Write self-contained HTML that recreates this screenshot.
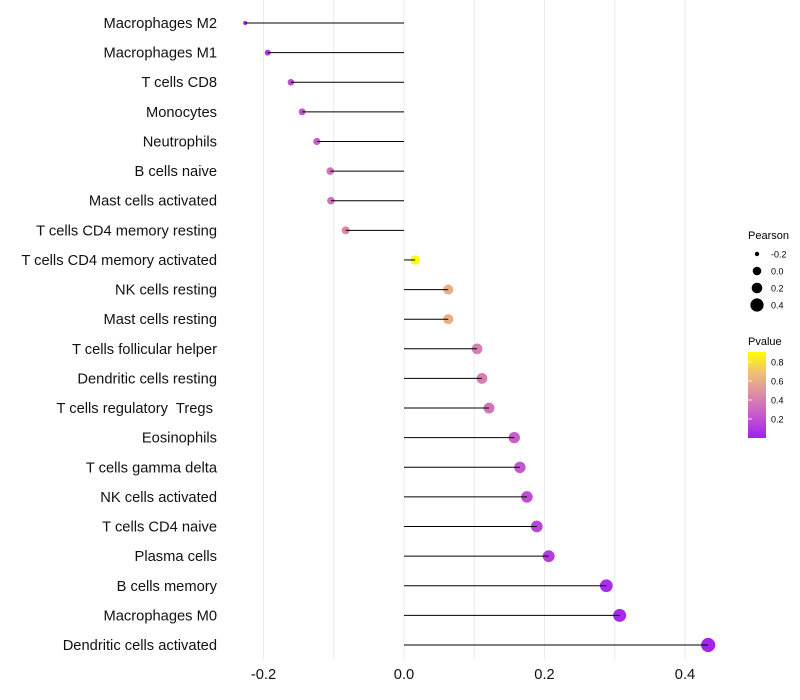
<!DOCTYPE html>
<html><head><meta charset="utf-8"><style>
body{margin:0;background:#fff;}
svg{font-family:"Liberation Sans",sans-serif;display:block}
text{white-space:pre}
</style></head><body>
<svg id="chart" width="800" height="700">
<defs><linearGradient id="pg" x1="0" y1="1" x2="0" y2="0">
<stop offset="0" stop-color="#A020F0"/><stop offset="0.25" stop-color="#C556CF"/><stop offset="0.5" stop-color="#DC8AA8"/><stop offset="0.75" stop-color="#EFBE78"/><stop offset="1" stop-color="#FFFF00"/>
</linearGradient></defs>
<g id="grid"></g><g id="marks"></g><g id="ylabels"></g><g id="xlabels"></g>
<g id="legend">
<text x="748" y="239" font-size="11">Pearson</text>
<text x="748" y="345" font-size="11">Pvalue</text>
<rect x="748" y="352" width="18" height="86" fill="url(#pg)"/>
</g>
</svg>
<script>
const categories=["Macrophages M2","Macrophages M1","T cells CD8","Monocytes","Neutrophils","B cells naive","Mast cells activated","T cells CD4 memory resting","T cells CD4 memory activated","NK cells resting","Mast cells resting","T cells follicular helper","Dendritic cells resting","T cells regulatory  Tregs ","Eosinophils","T cells gamma delta","NK cells activated","T cells CD4 naive","Plasma cells","B cells memory","Macrophages M0","Dendritic cells activated"];
const pearson=[-0.226,-0.194,-0.161,-0.145,-0.124,-0.105,-0.104,-0.083,0.016,0.063,0.063,0.104,0.111,0.121,0.157,0.165,0.175,0.189,0.206,0.288,0.307,0.433];
const pvalue=[0.03,0.1,0.18,0.22,0.28,0.35,0.35,0.45,0.9,0.62,0.62,0.4,0.4,0.35,0.26,0.23,0.19,0.15,0.12,0.06,0.04,0.02];
const xTicks=[-0.2,0.0,0.2,0.4];
const xTickLabels=["-0.2","0.0","0.2","0.4"];
const sizeBreaks=[-0.2,0.0,0.2,0.4];
const colorBreaks=[0.2,0.4,0.6,0.8];
const NS="http://www.w3.org/2000/svg";
const X=v=>404+v*702.5;
const Y=i=>23+i*(622/21);
const sMin=-0.226,sMax=0.433;
const R=v=>{const t=Math.max(0,(v-sMin)/(sMax-sMin));return t<0.01?2.1:Math.sqrt(6.5+t*44);};
const stops=[[0,[160,32,240]],[0.25,[197,86,207]],[0.5,[220,138,168]],[0.75,[239,190,120]],[1,[255,255,0]]];
function col(p){let t=Math.min(1,Math.max(0,p/0.905));for(let k=1;k<stops.length;k++){if(t<=stops[k][0]){const a=stops[k-1],b=stops[k],f=(t-a[0])/(b[0]-a[0]);return "rgb("+a[1].map((c,j)=>Math.round(c+(b[1][j]-c)*f)).join(",")+")";}}return "rgb(255,255,0)";}
function mk(tag,at,par){const e=document.createElementNS(NS,tag);for(const k in at)e.setAttribute(k,at[k]);document.getElementById(par).appendChild(e);return e;}
for(let g=-0.2;g<=0.41;g+=0.1){const l=mk("line",{x1:X(g),x2:X(g),y1:0,y2:660,stroke:"#ebebeb","stroke-width":1},"grid");

}
categories.forEach((c,i)=>{
const y=Y(i);
const p=mk("circle",{cx:X(pearson[i]),cy:y,r:R(pearson[i]),fill:col(pvalue[i])},"marks");


const s=mk("line",{x1:X(0),x2:X(pearson[i]),y1:y,y2:y,stroke:"#000","stroke-width":1},"marks");


const t=mk("text",{x:217,y:y+5,"font-size":14.7,"text-anchor":"end",fill:"#111"},"ylabels");t.textContent=c;


});
xTicks.forEach((v,i)=>{const t=mk("text",{x:X(v),y:679,"font-size":14.7,"text-anchor":"middle",fill:"#111"},"xlabels");t.textContent=xTickLabels[i];

});
sizeBreaks.forEach((v,i)=>{const y=254+i*17;
const c=mk("circle",{cx:757,cy:y,r:[2.2,4.3,5.3,6.6][i],fill:"#000"},"legend");


const t=mk("text",{x:771,y:y+3.5,"font-size":9},"legend");t.textContent=v.toFixed(1);

});
colorBreaks.forEach(v=>{const y=438-v/0.2*19;
const l=mk("line",{x1:748,x2:752,y1:y,y2:y,stroke:"#fff","stroke-width":0.8},"legend");


const t=mk("text",{x:771,y:y+3.5,"font-size":9},"legend");t.textContent=v.toFixed(1);

});
</script>
</body></html>
